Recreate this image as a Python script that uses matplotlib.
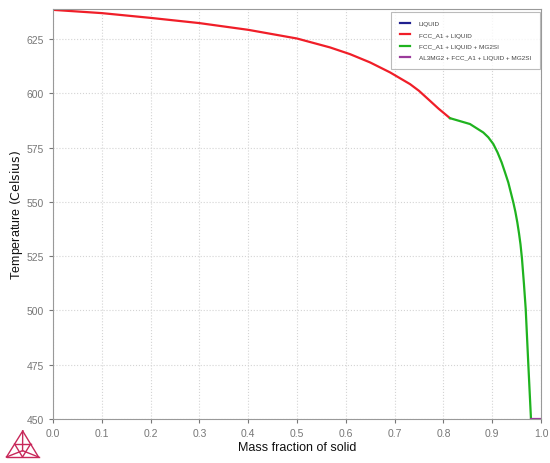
import matplotlib.pyplot as plt
from matplotlib.lines import Line2D

plt.rcParams['font.family'] = ['Liberation Sans', 'DejaVu Sans']

# Fraccion solida vs temperatura
fs_fcc = [0.0, 0.1, 0.2, 0.3, 0.4, 0.5, 0.5676, 0.6086, 0.6496, 0.6906, 0.7316,
          0.75, 0.7725, 0.79, 0.8135]
T_fcc = [638.5, 637.0, 634.8, 632.4, 629.3, 625.3, 621.2, 618.1, 614.3, 609.7, 604.3,
         601.2, 596.6, 593.0, 588.6]

fs_mg2si = [0.8135, 0.8545, 0.8818, 0.892, 0.9023, 0.911, 0.9194, 0.926, 0.933,
            0.9433, 0.9475, 0.9515, 0.955, 0.958, 0.961, 0.965, 0.9687, 0.974, 0.9795]
T_mg2si = [588.6, 585.9, 582.0, 579.8, 576.7, 572.8, 568.2, 563.8, 559.0,
           549.8, 545.5, 540.6, 535.5, 530.5, 524.0, 512.5, 500.7, 475.4, 450.0]

fs_al3mg2 = [0.9795, 1.0]
T_al3mg2 = [450.0, 450.0]

labels = ['LIQUID', 'FCC_A1 + LIQUID', 'FCC_A1 + LIQUID + MG2SI',
          'AL3MG2 + FCC_A1 + LIQUID + MG2SI']
colores = ['#1f1f8f', '#f01e28', '#1fb31f', '#9b3b9b']

xticks = [0.0, 0.1, 0.2, 0.3, 0.4, 0.5, 0.6, 0.7, 0.8, 0.9, 1.0]
yticks = [450, 475, 500, 525, 550, 575, 600, 625]

fig = plt.figure(figsize=(5.5, 4.64), dpi=100)
ax = fig.add_axes([0.0964, 0.0948, 0.8872, 0.8832])

ax.plot([], [], color=colores[0], lw=1.6, label=labels[0])
ax.plot(fs_fcc, T_fcc, color=colores[1], lw=1.6, label=labels[1])
ax.plot(fs_mg2si, T_mg2si, color=colores[2], lw=1.6, label=labels[2])
ax.plot(fs_al3mg2, T_al3mg2, color=colores[3], lw=1.6, label=labels[3])

ax.set_xlim(0, 1.0)
ax.set_ylim(450, 638.8)
ax.set_xticks(xticks)
ax.set_xticklabels(['%.1f' % v for v in xticks])
ax.set_yticks(yticks)
ax.tick_params(colors='#777777', labelsize=7.5, length=3, width=0.8)
for s in ax.spines.values():
    s.set_color('#999999')
ax.grid(True, color='#d4d4d4', ls=':', lw=0.8)

ax.set_xlabel('Mass fraction of solid', fontsize=9, color='#111111', labelpad=2)
ax.set_ylabel('Temperature $\\left(\\mathrm{Celsius}\\right)$', fontsize=9,
              color='#111111', labelpad=1)

leg = ax.legend(loc='upper right', fontsize=4.6, frameon=True, fancybox=False,
                handlelength=1.7, handletextpad=1.3, borderpad=1.4,
                labelspacing=0.9, borderaxespad=0,
                bbox_to_anchor=(540 / 550, 1 - 13 / 464),
                bbox_transform=fig.transFigure)
leg.get_frame().set_edgecolor('#aaaaaa')
leg.get_frame().set_linewidth(0.8)
for t in leg.get_texts():
    t.set_color('#444444')

# logo triangular (decoracion)
c = '#c8285a'
W, H = 550.0, 464.0
def p(x, y):
    return x / W, 1 - y / H
A, B, C = p(22.7, 432), p(6.5, 458), p(38.5, 458)
G = ((A[0] + B[0] + C[0]) / 3, (A[1] + B[1] + C[1]) / 3 - 0.005)
mAB = ((A[0] + B[0]) / 2, (A[1] + B[1]) / 2)
mAC = ((A[0] + C[0]) / 2, (A[1] + C[1]) / 2)
mBC = ((B[0] + C[0]) / 2, (B[1] + C[1]) / 2)
segs = [(A, B), (B, C), (C, A), (mAB, mAC), (mAC, mBC), (mBC, mAB),
        (A, G), (B, G), (C, G)]
for a, b in segs:
    fig.add_artist(Line2D([a[0], b[0]], [a[1], b[1]], color=c, lw=1.0))

fig.savefig('out.png', dpi=100)
